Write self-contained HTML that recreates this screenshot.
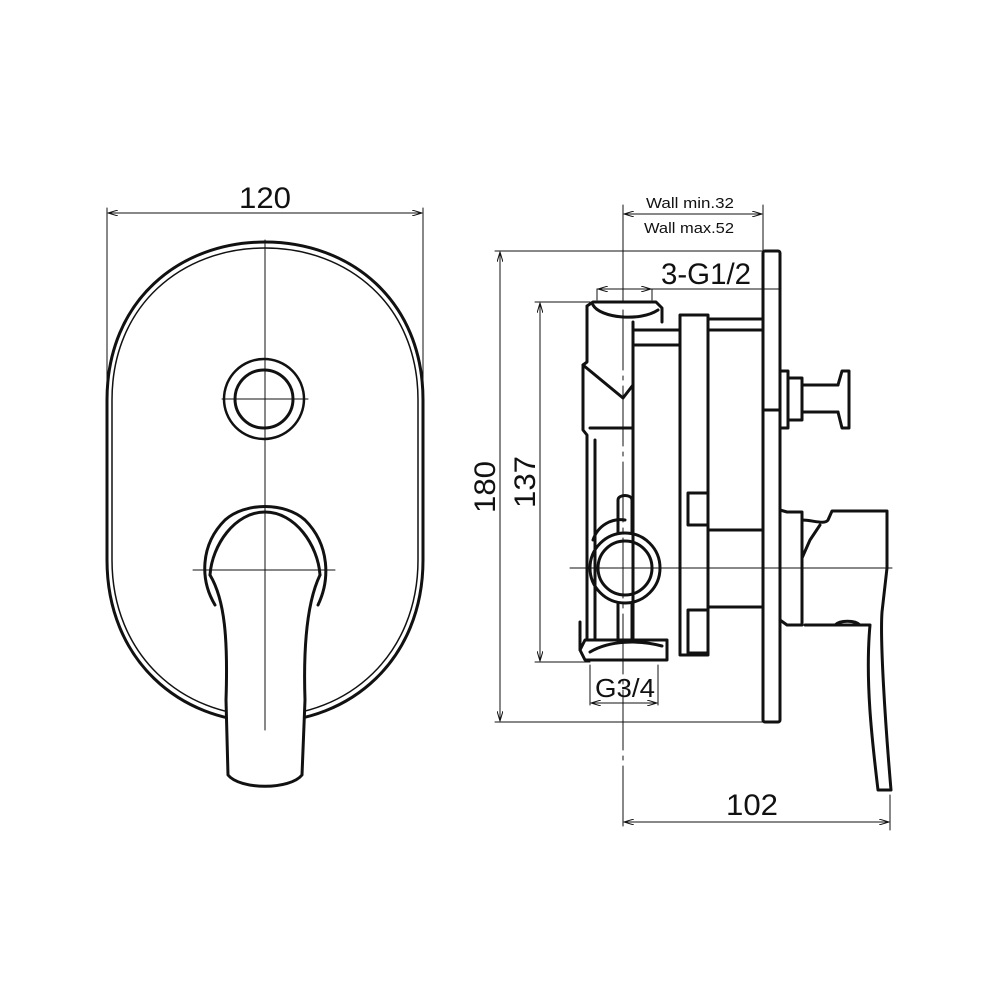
<!DOCTYPE html>
<html><head><meta charset="utf-8"><style>
html,body{margin:0;padding:0;background:#fff;}
svg{display:block;}
text{font-family:"Liberation Sans Narrow","Liberation Sans",sans-serif;fill:#111;}
</style></head><body>
<svg width="1000" height="1000" viewBox="0 0 1000 1000" xmlns="http://www.w3.org/2000/svg">
<defs>
<marker id="a" viewBox="0 0 10 6" refX="10" refY="3" markerWidth="10" markerHeight="6" orient="auto-start-reverse" markerUnits="userSpaceOnUse"><path d="M0,0 L10,3 L0,6" fill="none" stroke="#111" stroke-width="1"/></marker>
</defs>
<g fill="none" stroke="#111" stroke-linecap="round" stroke-linejoin="round">
<!-- LEFT VIEW -->
<g stroke-width="1">
<line x1="107" y1="208" x2="107" y2="400"/>
<line x1="423" y1="208" x2="423" y2="400"/>
<line x1="108" y1="213" x2="422" y2="213" marker-start="url(#a)" marker-end="url(#a)"/>
</g>
<path stroke-width="3" d="M107,400 C107,300 180,242 265,242 C350,242 423,300 423,400 L423,560 C423,660 350,722 265,722 C180,722 107,660 107,560 Z"/>
<path stroke-width="1.5" d="M112,400 C112,305 182,248 265,248 C348,248 418,305 418,400 L418,560 C418,655 348,716 265,716 C182,716 112,655 112,560 Z"/>
<g stroke-width="1">
<line x1="265" y1="240" x2="265" y2="730"/>
<line x1="222" y1="399" x2="308" y2="399"/>
<line x1="193" y1="570" x2="335" y2="570"/>
</g>
<g stroke-width="3">
<circle cx="264" cy="399" r="40" stroke-width="2.5"/>
<circle cx="264" cy="399" r="29"/>
<path d="M215,605 C200,580 200,545 225,520 C245,502 285,502 305,520 C330,545 330,580 318,605"/>
<path d="M210,575 C212,545 235,512 265,512 C295,512 318,545 320,575"/>
<path fill="#fff" stroke="none" d="M210,575 C225,600 228,640 226,700 L228,775 C240,790 290,790 302,775 L305,700 C303,640 308,600 320,575 Z"/>
<path d="M210,575 C225,600 228,640 226,700 L228,775 C240,790 290,790 302,775 L305,700 C303,640 308,600 320,575"/>
</g>
<line x1="265" y1="575" x2="265" y2="730" stroke-width="1"/>
<line x1="210" y1="570" x2="320" y2="570" stroke-width="1"/>

<!-- RIGHT VIEW dimensions -->
<g stroke-width="1">
<line x1="623" y1="205" x2="623" y2="302"/>
<line x1="763" y1="205" x2="763" y2="250"/>
<line x1="624" y1="214" x2="762" y2="214" marker-start="url(#a)" marker-end="url(#a)"/>
<line x1="495" y1="251" x2="763" y2="251"/>
<line x1="495" y1="722" x2="763" y2="722"/>
<line x1="500" y1="252" x2="500" y2="721" marker-start="url(#a)" marker-end="url(#a)"/>
<line x1="535" y1="302" x2="590" y2="302"/>
<line x1="535" y1="662" x2="590" y2="662"/>
<line x1="540" y1="303" x2="540" y2="661" marker-start="url(#a)" marker-end="url(#a)"/>
<line x1="597" y1="289" x2="780" y2="289"/>
<line x1="597" y1="289" x2="597" y2="300"/>
<line x1="652" y1="289" x2="652" y2="300"/>
<line x1="598" y1="289" x2="651" y2="289" marker-start="url(#a)" marker-end="url(#a)"/>
<line x1="590" y1="665" x2="590" y2="705"/>
<line x1="658" y1="665" x2="658" y2="705"/>
<line x1="591" y1="703" x2="657" y2="703" marker-start="url(#a)" marker-end="url(#a)"/>
<line x1="623" y1="310" x2="623" y2="830" stroke-dasharray="60 6 4 6"/>
<line x1="890" y1="795" x2="890" y2="830"/>
<line x1="624" y1="822" x2="889" y2="822" marker-start="url(#a)" marker-end="url(#a)"/>
<line x1="570" y1="568" x2="892" y2="568"/>
</g>
<!-- body -->
<g stroke-width="3">
<rect x="763" y="251" width="17" height="471" rx="2"/>
<path d="M763,410 L780,410"/>
<path d="M587,306 L593,302 L656,302 L662,308 L662,322 M587,306 L587,322"/>
<path d="M593,305 C600,318 640,322 658,310"/>
<path d="M587,320 L587,362 L583,365 L583,430 L587,435 L587,640"/>
<path d="M583,365 L623,398 L633,385"/>
<path d="M590,428 L633,428"/>
<path d="M595,440 L595,640"/>
<path d="M633,322 L633,640"/>
<path d="M633,330 L680,330 M633,345 L680,345"/>
<rect x="680" y="315" width="28" height="340"/>
<path d="M708,319 L763,319 M708,330 L763,330"/>
<path d="M708,530 L763,530 M708,607 L763,607"/>
<path d="M688,493 L708,493 L708,525 L688,525 Z"/>
<path d="M688,610 L708,610 L708,653 L688,653 Z"/>
<path d="M580,622 L580,650 L585,640 L667,640 L667,660 L585,660 L580,650"/>
<path d="M590,652 C610,640 640,640 662,646"/>
<circle cx="625" cy="568" r="35"/>
<circle cx="625" cy="568" r="27"/>
<path d="M618,500 C618,494 632,494 632,500 L632,533 M618,533 L618,500 M618,603 L618,640 M632,603 L632,640"/>
<path d="M593,540 C598,525 612,518 625,520"/>
<!-- knob -->
<path d="M780,371 L788,371 L788,428 L780,428"/>
<path d="M788,378 L802,378 L802,420 L788,420"/>
<path d="M802,385 L838,385 M802,412 L838,412"/>
<path d="M838,385 L842,371 L849,371 L849,428 L842,428 L838,412"/>
<!-- lever -->
<path d="M780,510 L787,512 L802,512 L802,625 L787,625 L780,620"/>
<path d="M802,520 C812,520 825,525 828,520 L832,511 L887,511 L887,568 L882,612 C880,640 885,720 891,790 L878,790 C872,740 865,680 870,625 L805,625"/>
<path d="M802,558 L810,540 L820,525"/>
<path d="M835,625 C840,620 855,620 860,625"/>
</g>
</g>
<g font-size="30" text-anchor="middle">
<text x="265" y="208" textLength="52" lengthAdjust="spacingAndGlyphs">120</text>
<text x="752" y="815" textLength="52" lengthAdjust="spacingAndGlyphs">102</text>
<text x="706" y="284" textLength="90" lengthAdjust="spacingAndGlyphs">3-G1/2</text>
<text x="625" y="697" font-size="26" textLength="60" lengthAdjust="spacingAndGlyphs">G3/4</text>
<text transform="translate(495,487) rotate(-90)" textLength="52" lengthAdjust="spacingAndGlyphs">180</text>
<text transform="translate(535,482) rotate(-90)" textLength="52" lengthAdjust="spacingAndGlyphs">137</text>
<text x="690" y="208" font-size="15" textLength="88" lengthAdjust="spacingAndGlyphs">Wall min.32</text>
<text x="689" y="233" font-size="15" textLength="90" lengthAdjust="spacingAndGlyphs">Wall max.52</text>
</g>
</svg>
</body></html>
